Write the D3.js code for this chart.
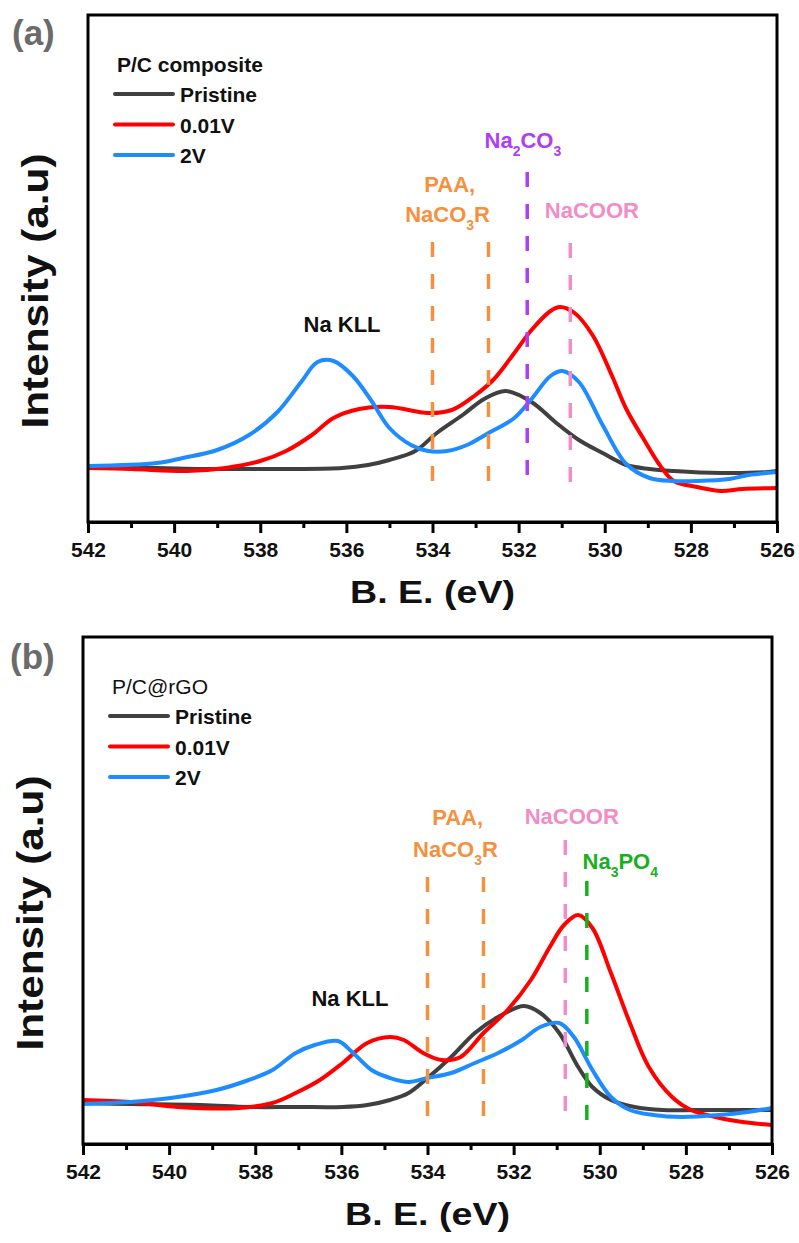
<!DOCTYPE html>
<html lang="en">
  <head>
    <meta charset="utf-8">
    <title>Na 1s XPS</title>
    <script src="https://d3js.org/d3.v7.min.js"></script>
    <style>
      body { margin: 0; background: #fff; }
      svg text { font-family: "Liberation Sans", Arial, sans-serif; }
    </style>
  </head>
  <body>
    <script>
      // x axis ticks (binding energy, eV)
      const majorTicks = [542, 540, 538, 536, 534, 532, 530, 528, 526]
      const minorTicks = [541, 539, 537, 535, 533, 531, 529, 527]
      const seriesNames = ['Pristine', '0.01V', '2V']
      const seriesColors = ['#404040', '#ff0000', '#1e8cff']

      // panel (a) P/C composite
      const aPristineEV = [542, 540.4, 539.35, 538.26, 537.2, 536.1, 535.5, 535.0, 534.4, 533.9, 533.3, 532.8, 532.3, 531.7, 531.15, 530.6, 530.05, 529.5, 528.96, 528.4, 527.3, 526.2, 526]
      const aPristine = [55, 54, 53, 53, 53, 54, 57, 62, 71, 89, 107, 123, 131, 120, 100, 82, 69, 57, 53, 51, 49, 50, 51]
      const aLowEV = [542, 541.0, 539.7, 538.8, 538.0, 537.4, 536.8, 536.3, 535.7, 535.0, 534.1, 533.55, 533.0, 532.57, 532.1, 531.7, 531.26, 531.04, 530.7, 530.27, 529.83, 529.5, 529.07, 528.74, 528.4, 527.86, 527.3, 526.8, 526]
      const aLow = [54, 53, 51, 54, 61, 71, 87, 104, 113, 115, 109, 112, 127, 143, 169, 192, 211, 215, 209, 186, 146, 113, 81, 58, 41, 35, 31, 33, 34]
      const aHighEV = [542, 540.4, 539.8, 539.0, 538.26, 537.6, 537.05, 536.67, 536.3, 535.85, 535.4, 535.0, 534.5, 534.1, 533.66, 533.2, 532.7, 532.1, 531.7, 531.26, 530.98, 530.6, 530.05, 529.5, 528.96, 528.4, 527.86, 527.1, 526.66, 526]
      const aHigh = [56, 59, 64, 72, 87, 110, 140, 160, 161, 146, 120, 94, 77, 71, 71, 77, 89, 104, 123, 146, 151, 140, 97, 58, 44, 41, 41, 43, 47, 50]

      // panel (b) P/C@rGO
      const bPristineEV = [542, 540.9, 539.25, 538.15, 537.06, 535.97, 535.4, 534.87, 534.44, 534.0, 533.45, 532.9, 532.36, 531.76, 531.38, 530.94, 530.5, 530.17, 529.74, 529.19, 528.54, 527.77, 526.68, 526]
      const bPristine = [41, 40, 39, 37, 37, 37, 39, 44, 51, 66, 87, 111, 127, 138, 131, 111, 77, 57, 44, 37, 34, 34, 34, 34]
      const bLowEV = [542, 540.9, 539.8, 538.37, 537.6, 537.06, 536.5, 535.97, 535.4, 534.87, 534.55, 534.1, 533.67, 533.23, 532.7, 532.14, 531.6, 531.16, 530.83, 530.5, 530.17, 529.74, 529.3, 528.86, 528.32, 527.88, 527.22, 526.68, 526]
      const bLow = [44, 42, 37, 36, 41, 51, 64, 81, 101, 107, 104, 91, 84, 87, 111, 134, 164, 197, 219, 229, 216, 171, 121, 77, 47, 34, 26, 22, 19]
      const bHighEV = [542, 540.9, 539.8, 538.9, 538.15, 537.6, 537.06, 536.62, 536.08, 535.75, 535.3, 534.87, 534.44, 534.0, 533.45, 532.9, 532.36, 531.81, 531.38, 530.94, 530.6, 530.17, 529.74, 529.3, 528.75, 528.1, 527.22, 526.57, 526]
      const bHigh = [40, 42, 47, 54, 64, 74, 91, 99, 103, 92, 74, 66, 62, 66, 71, 81, 91, 104, 117, 121, 107, 74, 47, 34, 29, 27, 29, 32, 36]

      // reference positions (eV) of the dashed marker lines
      const aMarkerEV = [534.0, 532.7, 531.8, 530.8]
      const aMarkerColor = ['#f5913e', '#f5913e', '#b23cf5', '#f28cc8']
      const aMarkerTop = [280, 280, 350, 279]
      const aMarkerBottom = [35, 35, 32, 35]
      const bMarkerEV = [534.0, 532.7, 530.8, 530.3]
      const bMarkerColor = ['#f5913e', '#f5913e', '#f28cc8', '#17b01f']
      const bMarkerTop = [267, 267, 304, 263]
      const bMarkerBottom = [22, 22, 25, 19]

      // labels: text (_n = subscript), eV, intensity, colour, anchor
      const aLabels = [
        ['PAA,', 533.6, 330, '#f5913e', 'middle'],
        ['NaCO_3R', 533.65, 300, '#f5913e', 'middle'],
        ['Na_2CO_3', 531.9, 374, '#b23cf5', 'middle'],
        ['NaCOOR', 530.3, 304, '#f28cc8', 'middle'],
        ['Na KLL', 536.1, 190, '#111', 'middle']
      ]
      const bLabels = [
        ['PAA,', 533.3, 319, '#f5913e', 'middle'],
        ['NaCO_3R', 533.35, 287, '#f5913e', 'middle'],
        ['NaCOOR', 530.65, 320, '#f28cc8', 'middle'],
        ['Na_3PO_4', 530.4, 275, '#17b01f', 'start'],
        ['Na KLL', 535.8, 138, '#111', 'middle']
      ]

      const W = 799, H = 1243
      const svg = d3.select('body').append('svg')
        .attr('width', W)
        .attr('height', H)

      function panel(opt) {
        const left = opt.left, top = opt.top, pw = 689, ph = 507
        const x = d3.scaleLinear().domain([542, 526]).range([left, left + pw])
        const y = d3.scaleLinear().domain([0, 507]).range([top + ph, top])
        const g = svg.append('g')

        // curves
        const line = d3.line()
          .x(d => x(d[0]))
          .y(d => y(d[1]))
          .curve(d3.curveCatmullRom.alpha(0.5))
        opt.series.forEach((s, i) => {
          g.append('path')
            .datum(d3.zip(s[0], s[1]))
            .attr('d', line)
            .attr('fill', 'none')
            .attr('stroke', seriesColors[i])
            .attr('stroke-width', 4)
            .attr('stroke-linejoin', 'round')
        })

        // dashed marker lines
        opt.markers.forEach((ev, i) => {
          g.append('line')
            .attr('x1', x(ev)).attr('x2', x(ev))
            .attr('y1', y(opt.markerTop[i])).attr('y2', y(opt.markerBottom[i]))
            .attr('stroke', opt.markerColor[i])
            .attr('stroke-width', 3.5)
            .attr('stroke-dasharray', '15,17')
        })

        // annotation labels
        opt.labels.forEach(l => {
          const t = g.append('text')
            .attr('x', x(l[1]))
            .attr('y', y(l[2]))
            .attr('fill', l[3])
            .attr('text-anchor', l[4])
            .attr('font-weight', 'bold')
            .attr('font-size', 22)
          const parts = l[0].split(/_(\d)/)
          parts.forEach((p, k) => {
            if (!p) return
            if (k % 2 === 1) {
              t.append('tspan').attr('font-size', 14).attr('dy', 8).text(p)
            } else {
              t.append('tspan').attr('dy', k > 0 ? -8 : 0).text(p)
            }
          })
        })

        // frame
        g.append('rect')
          .attr('x', left).attr('y', top)
          .attr('width', pw).attr('height', ph)
          .attr('fill', 'none')
          .attr('stroke', '#000')
          .attr('stroke-width', 3)

        // axes
        const xAxis = d3.axisBottom(x)
          .tickValues(majorTicks)
          .tickSize(11)
          .tickPadding(9)
          .tickFormat(d3.format('d'))
        const ax = g.append('g')
          .attr('transform', 'translate(0,' + (top + ph) + ')')
          .call(xAxis)
        ax.select('.domain').attr('stroke-width', 3)
        ax.selectAll('.tick line').attr('stroke-width', 3)
        ax.selectAll('.tick text')
          .attr('font-size', 21)
          .attr('font-weight', 'bold')
          .attr('fill', '#111')
          .style('font-family', '"Liberation Sans", Arial, sans-serif')
        const minor = g.append('g')
          .attr('transform', 'translate(0,' + (top + ph) + ')')
          .call(d3.axisBottom(x).tickValues(minorTicks).tickSize(6).tickFormat(''))
        minor.select('.domain').remove()
        minor.selectAll('.tick line').attr('stroke-width', 3)

        g.append('text')
          .attr('x', left + pw / 2)
          .attr('y', top + ph + 81)
          .attr('text-anchor', 'middle')
          .attr('font-weight', 'bold')
          .attr('font-size', 31)
          .attr('textLength', 165)
          .attr('lengthAdjust', 'spacingAndGlyphs')
          .attr('fill', '#111')
          .text('B. E. (eV)')

        g.append('text')
          .attr('transform', 'translate(' + (left - 40) + ',' + (top + 276) + ') rotate(-90)')
          .attr('text-anchor', 'middle')
          .attr('font-weight', 'bold')
          .attr('font-size', 36)
          .attr('textLength', 275)
          .attr('lengthAdjust', 'spacingAndGlyphs')
          .attr('fill', '#111')
          .text('Intensity (a.u)')

        // panel tag
        g.append('text')
          .attr('x', opt.tagX).attr('y', opt.tagY)
          .attr('font-weight', 'bold')
          .attr('font-size', 35)
          .attr('fill', '#6b6b6b')
          .text(opt.tag)

        // legend
        g.append('text')
          .attr('x', left + 29).attr('y', top + 57)
          .attr('font-weight', opt.titleWeight)
          .attr('font-size', 21)
          .attr('fill', '#111')
          .text(opt.title)
        seriesNames.forEach((n, i) => {
          const ly = top + 79 + i * 30.5
          g.append('line')
            .attr('x1', left + 27).attr('x2', left + 85)
            .attr('y1', ly).attr('y2', ly)
            .attr('stroke', seriesColors[i])
            .attr('stroke-width', 4)
            .attr('stroke-linecap', 'round')
          g.append('text')
            .attr('x', left + 92).attr('y', ly + 8)
            .attr('font-weight', 'bold')
            .attr('font-size', 21)
            .attr('fill', '#111')
            .text(n)
        })
      }

      panel({
        left: 88, top: 15, tag: '(a)', tagX: 12, tagY: 45,
        title: 'P/C composite', titleWeight: 'bold',
        series: [[aPristineEV, aPristine], [aLowEV, aLow], [aHighEV, aHigh]],
        markers: aMarkerEV, markerColor: aMarkerColor, markerTop: aMarkerTop, markerBottom: aMarkerBottom,
        labels: aLabels
      })
      panel({
        left: 83, top: 637, tag: '(b)', tagX: 10, tagY: 669,
        title: 'P/C@rGO', titleWeight: 'normal',
        series: [[bPristineEV, bPristine], [bLowEV, bLow], [bHighEV, bHigh]],
        markers: bMarkerEV, markerColor: bMarkerColor, markerTop: bMarkerTop, markerBottom: bMarkerBottom,
        labels: bLabels
      })
    </script>
  </body>
</html>
